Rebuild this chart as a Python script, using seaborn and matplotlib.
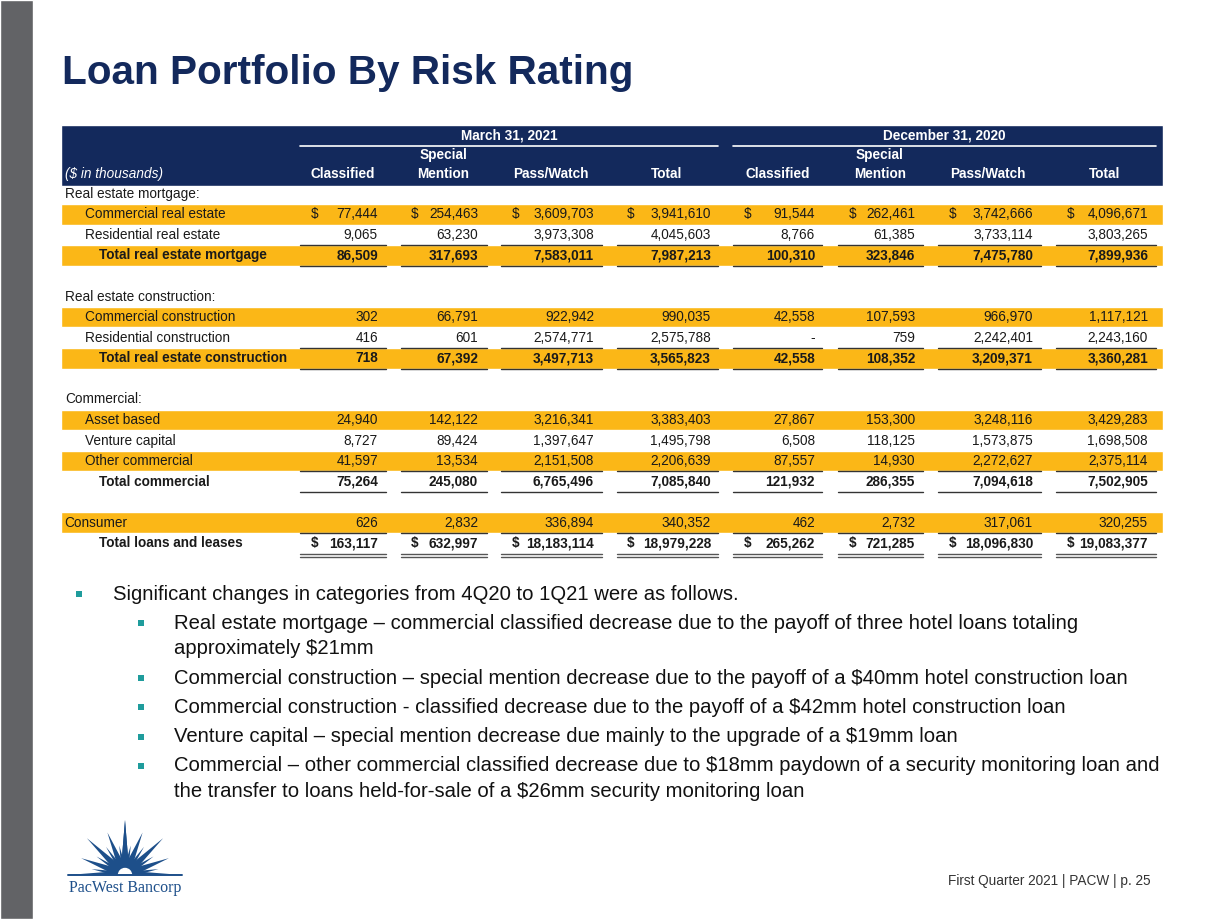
import matplotlib
matplotlib.use("Agg")
import matplotlib.pyplot as plt
import seaborn as sns
import numpy as np

# ---- data ($ in thousands) ----
categories = ["Commercial real estate", "Residential real estate", "Total real estate mortgage",
              "Commercial construction", "Residential construction", "Total real estate construction",
              "Asset based", "Venture capital", "Other commercial", "Total commercial",
              "Consumer", "Total loans and leases"]
section_labels = ["Real estate mortgage:", "Real estate construction:", "Commercial:"]

mar_classified = [77444, 9065, 86509, 302, 416, 718, 24940, 8727, 41597, 75264, 626, 163117]
mar_special = [254463, 63230, 317693, 66791, 601, 67392, 142122, 89424, 13534, 245080, 2832, 632997]
mar_pass = [3609703, 3973308, 7583011, 922942, 2574771, 3497713, 3216341, 1397647, 2151508,
            6765496, 336894, 18183114]
mar_total = [3941610, 4045603, 7987213, 990035, 2575788, 3565823, 3383403, 1495798, 2206639,
             7085840, 340352, 18979228]
dec_classified = [91544, 8766, 100310, 42558, 0, 42558, 27867, 6508, 87557, 121932, 462, 265262]
dec_special = [262461, 61385, 323846, 107593, 759, 108352, 153300, 118125, 14930, 286355, 2732, 721285]
dec_pass = [3742666, 3733114, 7475780, 966970, 2242401, 3209371, 3248116, 1573875, 2272627,
            7094618, 317061, 18096830]
dec_total = [4096671, 3803265, 7899936, 1117121, 2243160, 3360281, 3429283, 1698508, 2375114,
             7502905, 320255, 19083377]

periods = ["March 31, 2021", "December 31, 2020"]
col_headers = [("", "Classified"), ("Special", "Mention"), ("", "Pass/Watch"), ("", "Total")]

bullets = [
    (1, ["Significant changes in categories from 4Q20 to 1Q21 were as follows."]),
    (2, ["Real estate mortgage \u2013 commercial classified decrease due to the payoff of three hotel loans totaling",
         "approximately $21mm"]),
    (2, ["Commercial construction \u2013 special mention decrease due to the payoff of a $40mm hotel construction loan"]),
    (2, ["Commercial construction - classified decrease due to the payoff of a $42mm hotel construction loan"]),
    (2, ["Venture capital \u2013 special mention decrease due mainly to the upgrade of a $19mm loan"]),
    (2, ["Commercial \u2013 other commercial classified decrease due to $18mm paydown of a security monitoring loan and",
         "the transfer to loans held-for-sale of a $26mm security monitoring loan"]),
]

# ---- styling ----
sns.set_theme(style="white")
plt.rcParams["font.family"] = ["Liberation Sans", "DejaVu Sans"]

NAVY = "#13295c"
GOLD = "#fbb717"
TEAL = "#1f9c9c"
LOGO = "#1d4f8a"
DARK = "#1a1a1a"
FS = 9.8

fig = plt.figure(figsize=(12.25, 9.19), dpi=100)
ax = fig.add_axes([0, 0, 1, 1])
ax.set_xlim(0, 1225)
ax.set_ylim(919, 0)
ax.axis("off")

# left grey stripe
ax.barh(459.5, 33, left=0, height=919, color="#626366")

# title
ax.text(62, 84, "Loan Portfolio By Risk Rating", fontsize=29.2, fontweight="bold",
        color=NAVY, va="baseline")

# ---- table layout ----
tbl_left, tbl_right = 61, 1163
num_right = [378, 478, 594, 711, 815, 915, 1033, 1148]
dollar_x = [311, 411, 512, 627, 744, 849, 949, 1067]
ul_start = [300, 401, 501, 617, 733, 838, 938, 1056]
ul_end = [386, 487, 602, 718, 822, 923, 1041, 1156]
hdr_center = [343, 443, 551, 667, 778, 880, 988, 1105]

pitch = 20.56
row_y = 193.8 + pitch * np.arange(18)
cat_rows = [1, 2, 3, 6, 7, 8, 11, 12, 13, 14, 16, 17]
section_rows = [0, 5, 10]
gold_rows = [1, 3, 6, 8, 11, 13, 16]
total_rows = [3, 8, 14, 17]
dollar_rows = [1, 17]
label_x = [85, 85, 99, 85, 85, 99, 85, 85, 85, 99, 64, 99]

# header band
ax.barh(155.5, tbl_right - tbl_left, left=tbl_left, height=61, color=NAVY)
for p, (a, b) in enumerate([(0, 3), (4, 7)]):
    ax.text((ul_start[a] + ul_end[b]) / 2, 136, periods[p], color="white", fontsize=FS,
            fontweight="bold", ha="center", va="center")
    ax.plot([ul_start[a], ul_end[b]], [146, 146], color="white", lw=1.2)
for c in range(8):
    top, bot = col_headers[c % 4]
    if top:
        ax.text(hdr_center[c], 155, top, color="white", fontsize=FS, fontweight="bold",
                ha="center", va="center")
    ax.text(hdr_center[c], 174, bot, color="white", fontsize=FS, fontweight="bold",
            ha="center", va="center")
ax.text(65, 174, "($ in thousands)", color="white", fontsize=FS, style="italic", va="center")

# gold row bands
ax.barh(row_y[gold_rows], tbl_right - tbl_left, left=tbl_left, height=pitch, color=GOLD)

# section labels
for r, lab in zip(section_rows, section_labels):
    ax.text(65, row_y[r], lab, fontsize=FS, color=DARK, va="center")

columns = [mar_classified, mar_special, mar_pass, mar_total,
           dec_classified, dec_special, dec_pass, dec_total]

for k, r in enumerate(cat_rows):
    fw = "bold" if r in total_rows else "normal"
    ax.text(label_x[k], row_y[r], categories[k], fontsize=FS, color=DARK,
            fontweight=fw, va="center")
    for c, col in enumerate(columns):
        v = col[k]
        s = f"{v:,}" if v else "-"
        ax.text(num_right[c], row_y[r], s, fontsize=FS, color=DARK, fontweight=fw,
                ha="right", va="center")
        if r in dollar_rows:
            ax.text(dollar_x[c], row_y[r], "$", fontsize=FS, color=DARK, fontweight=fw,
                    va="center")

# underlines around totals
for r in total_rows:
    for c in range(8):
        xs = [ul_start[c], ul_end[c]]
        ax.plot(xs, [row_y[r] - pitch / 2] * 2, color="#333333", lw=1.0)
        if r == 17:
            ax.plot(xs, [row_y[r] + pitch / 2] * 2, color="#555555", lw=1.0)
            ax.plot(xs, [row_y[r] + pitch / 2 + 3] * 2, color="#555555", lw=1.0)
        else:
            ax.plot(xs, [row_y[r] + pitch / 2] * 2, color="#333333", lw=1.0)

# ---- bullets ----
y = 594
for level, lines in bullets:
    bx = 79 if level == 1 else 141
    tx = 113 if level == 1 else 174
    ax.scatter([bx], [y], marker="s", s=22, color=TEAL, linewidths=0)
    for j, line in enumerate(lines):
        ax.text(tx, y + 25.5 * j, line, fontsize=14.55, color="#111111", va="center")
    y += 29.3 + 25.5 * (len(lines) - 1)

# ---- footer ----
ax.text(1151, 881, "First Quarter 2021 | PACW | p. 25", fontsize=FS, color="#333333",
        ha="right", va="center")

# logo starburst
cx, cy = 125, 875
angles = [0, 11, 22.5, 34, 46, 57, 69, 80, 90]
lengths = [55, 30, 46, 34, 53, 34, 47, 34, 57]
for sgn in (-1, 1):
    for a, L in zip(angles, lengths):
        th = np.deg2rad(a)
        tip = (cx + sgn * L * np.sin(th), cy - L * np.cos(th))
        w = 4.5 if L > 40 else 3.0
        px, py = np.cos(th) * w, sgn * np.sin(th) * w
        ax.fill([cx + px, tip[0], cx - px], [cy + py, tip[1], cy - py], color=LOGO, lw=0)
ax.add_patch(plt.Circle((cx, cy), 6.5, color="white", zorder=5))
ax.barh(cy + 1.5, 114, left=68, height=3, color="white", zorder=5)
ax.plot([68, 182], [cy, cy], color=LOGO, lw=1.4, zorder=6)
ax.text(125, 888, "PacWest Bancorp", family=["Liberation Serif", "DejaVu Serif"], fontsize=11.5,
        color=LOGO, ha="center", va="center")

fig.savefig("out.png", dpi=100)
